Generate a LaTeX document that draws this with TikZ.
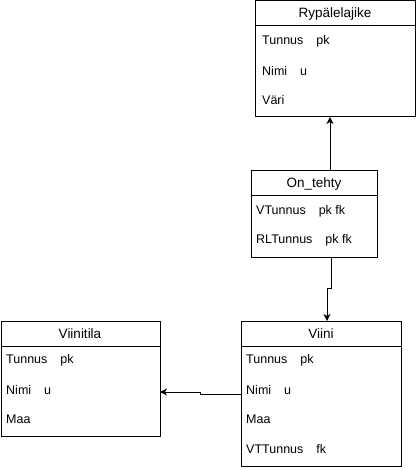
\documentclass[tikz,border=0pt]{standalone}
\usepackage{fontspec}
\setmainfont{Liberation Sans}
\usetikzlibrary{arrows.meta}
\begin{document}
\begin{tikzpicture}[x=1pt,y=-1pt,
  ent/.style={draw, line width=1pt, inner sep=0pt, outer sep=0pt, anchor=north west},
  ttl/.style={font=\fontsize{13.5}{16}\selectfont, inner sep=0pt},
  rowtxt/.style={font=\fontsize{12.5}{15}\selectfont, inner sep=0pt, anchor=west},
  conn/.style={line width=1pt, -{Stealth[length=7pt,width=7pt,inset=2pt]}},
  hline/.style={line width=1pt}]
\useasboundingbox (0,0) rectangle (416,470);
% Rypalelajike
\node[ent, minimum width=160pt, minimum height=116pt] (ryp) at (255,1) {};
\draw[hline] (255,26) -- (415,26);
\node[ttl] (rypT) at (335,14) {Rypälelajike};
\node[rowtxt] (ryp1) at (262,41) {Tunnus\hspace{13pt}pk};
\node[rowtxt] (ryp2) at (262,71) {Nimi\hspace{13pt}u};
\node[rowtxt] (ryp3) at (262,100) {Väri};
% On_tehty
\node[ent, minimum width=126pt, minimum height=86pt] (ot) at (251,171) {};
\draw[hline] (251,195) -- (377,195);
\node[ttl] (otT) at (314,184) {On\_tehty};
\node[rowtxt] (ot1) at (256,211) {VTunnus\hspace{13pt}pk fk};
\node[rowtxt] (ot2) at (256,240) {RLTunnus\hspace{13pt}pk fk};
% Viini
\node[ent, minimum width=160pt, minimum height=145pt] (vi) at (241,321) {};
\draw[hline] (241,346) -- (401,346);
\node[ttl] (viT) at (321,334) {Viini};
\node[rowtxt] (vi1) at (246,360) {Tunnus\hspace{13pt}pk};
\node[rowtxt] (vi2) at (246,390) {Nimi\hspace{13pt}u};
\node[rowtxt] (vi3) at (246,419) {Maa};
\node[rowtxt] (vi4) at (246,449) {VTTunnus\hspace{13pt}fk};
% Viinitila
\node[ent, minimum width=159pt, minimum height=115pt] (vt) at (1,321) {};
\draw[hline] (1,346) -- (160,346);
\node[ttl] (vtT) at (80,334) {Viinitila};
\node[rowtxt] (vt1) at (6,360) {Tunnus\hspace{13pt}pk};
\node[rowtxt] (vt2) at (6,390) {Nimi\hspace{13pt}u};
\node[rowtxt] (vt3) at (6,419) {Maa};
% connectors
\coordinate (c1) at (330,0);
\draw[conn] (ot.north -| c1) -- (ryp.south -| c1);
\coordinate (c2) at (331,288);
\coordinate (c3) at (327,288);
\draw[conn] (ot.south -| c2) -- (c2) -- (c3) -- (vi.north -| c3);
\coordinate (c4) at (200,394);
\coordinate (c5) at (200,392);
\draw[conn] (vi.west |- c4) -- (c4) -- (c5) -- (vt.east |- c5);
\end{tikzpicture}
\end{document}
